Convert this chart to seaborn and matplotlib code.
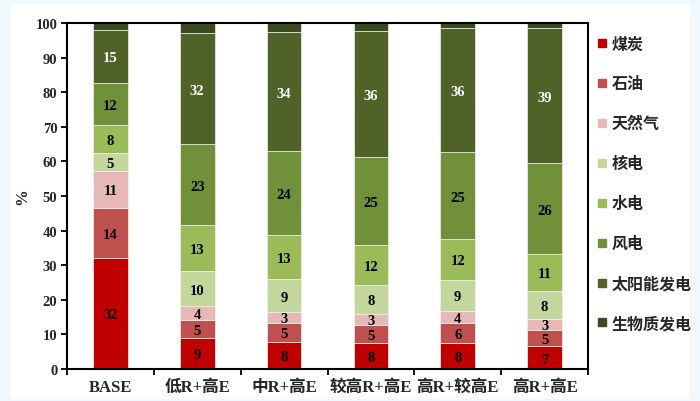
import numpy as np
import pandas as pd
import matplotlib
matplotlib.use("Agg")
import matplotlib.pyplot as plt
from matplotlib.lines import Line2D
from matplotlib.patches import Rectangle
import seaborn as sns

# scenarios and energy sources
scenarios = ["BASE", "低R+高E", "中R+高E", "较高R+高E", "高R+较高E", "高R+高E"]
sources = ["煤炭", "石油", "天然气", "核电", "水电", "风电", "太阳能发电", "生物质发电"]

# share of each source (%) per scenario
coal = [32.2, 9.1, 7.9, 7.6, 7.6, 6.6]
oil = [14.3, 5.2, 5.4, 5.2, 5.7, 4.8]
gas = [10.8, 4.0, 3.2, 3.1, 3.6, 3.1]
nuclear = [5.2, 9.9, 9.4, 8.4, 8.8, 8.1]
hydro = [7.9, 13.4, 12.7, 11.6, 11.9, 10.6]
wind = [12.4, 23.3, 24.4, 25.4, 25.0, 26.3]
solar = [15.3, 32.1, 34.4, 36.5, 35.9, 39.0]
biomass = [1.9, 3.0, 2.6, 2.2, 1.5, 1.5]

series = [coal, oil, gas, nuclear, hydro, wind, solar, biomass]
colors = ["#C00000", "#C0504D", "#E6B9B8", "#C3D69B",
          "#9BBB59", "#71903A", "#4F6228", "#3B4A1E"]
label_colors = ["black"] * 6 + ["white", None]

sns.set_style("white")
serif = ["Liberation Serif", "Noto Sans CJK SC", "DejaVu Sans"]
cjk = ["Noto Sans CJK SC", "DejaVu Sans"]

fig = plt.figure(figsize=(7, 4.02), dpi=100, facecolor="#F0F8FF")
fig.patches.append(Rectangle((11 / 700, 2 / 402), 679 / 700, 395 / 402,
                             transform=fig.transFigure, facecolor="white",
                             edgecolor="none", zorder=-5))
ax = fig.add_axes([67 / 700, 32 / 402, 521 / 700, 346 / 402])
ax.set_zorder(2)
ax.set_facecolor("white")

bottom = np.zeros(len(scenarios))
for name, vals, col, lc in zip(sources, series, colors, label_colors):
    df = pd.DataFrame({"scenario": scenarios, "value": vals})
    sns.barplot(data=df, x="scenario", y="value", order=scenarios, color=col,
                width=0.4, bottom=bottom, errorbar=None, edgecolor="#F2F2F2",
                linewidth=0.5, saturation=1, ax=ax)
    if lc is not None:
        for i, v in enumerate(vals):
            ax.text(i, bottom[i] + v / 2, f"{v:.0f}", ha="center", va="center_baseline",
                    color=lc, fontsize=10.5, fontweight="bold", family=serif)
    bottom = bottom + np.array(vals)

ax.set_xlim(-0.5, 5.5)
ax.set_ylim(0, 100)
ax.set_yticks(np.arange(0, 101, 10))
ax.set_xticks(range(len(scenarios)))
ax.set_xticks(np.arange(-0.5, 6, 1), minor=True)
ax.set_xticklabels(scenarios)
ax.tick_params(axis="x", which="major", length=0, pad=7)
ax.tick_params(axis="x", which="minor", length=4, width=1.3, direction="out", color="black")
ax.tick_params(axis="y", length=4, width=1.3, direction="out", color="black", pad=3)
ax.xaxis.set_tick_params(bottom=True, which="both")
ax.yaxis.set_tick_params(left=True)
for lab in ax.get_xticklabels():
    lab.set_family(serif)
    lab.set_fontweight("bold")
    lab.set_fontsize(12)
for lab in ax.get_yticklabels():
    lab.set_family(serif)
    lab.set_fontweight("bold")
    lab.set_fontsize(10.5)
ax.set_xlabel("")
ax.set_ylabel("%", family=serif, fontweight="bold", fontsize=12, labelpad=4)
for sp in ax.spines.values():
    sp.set_visible(True)
    sp.set_color("black")
    sp.set_linewidth(1.5)

handles = [Line2D([], [], marker="s", linestyle="none", markersize=6,
                  markerfacecolor=c, markeredgecolor=c) for c in colors]
leg = fig.legend(handles, sources, loc="upper left",
                 bbox_to_anchor=(583 / 700, 1 - 22 / 402), frameon=False,
                 handlelength=0.6, handletextpad=0.3, labelspacing=1.5,
                 prop={"family": cjk, "weight": "bold", "size": 11.5})

fig.savefig("out.png", dpi=100, facecolor=fig.get_facecolor())
